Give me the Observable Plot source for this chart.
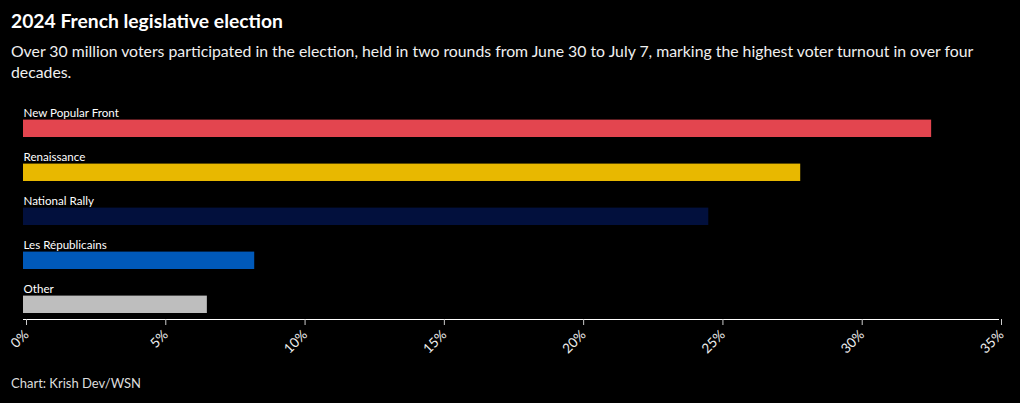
<!DOCTYPE html>
<html>
<head>
<meta charset="utf-8">
<script src="https://cdn.jsdelivr.net/npm/d3@7"></script>
<script src="https://cdn.jsdelivr.net/npm/@observablehq/plot@0.6"></script>
<style>
  html, body { margin: 0; padding: 0; background: #000; width: 1020px; height: 403px; overflow: hidden; }
  body { font-family: Lato, "Noto Sans", sans-serif; color: #fff; position: relative; }
  #title { position: absolute; left: 11px; top: 9px; font-size: 19.3px; font-weight: 700; line-height: 24px; white-space: nowrap; }
  #subtitle { position: absolute; left: 11px; top: 40px; width: 985px; font-size: 15.8px; line-height: 21px; color: #f0f0f0; }
  #chart { position: absolute; left: 0; top: 90px; }
  #caption { position: absolute; left: 11px; top: 375px; font-size: 13px; color: #ddd; }
</style>
</head>
<body>
<div id="title">2024 French legislative election</div>
<div id="subtitle">Over 30 million voters participated in the election, held in two rounds from June 30 to July 7, marking the highest voter turnout in over four decades.</div>
<div id="chart"></div>
<div id="caption">Chart: Krish Dev/WSN</div>
<script>
const parties = ["New Popular Front", "Renaissance", "National Rally", "Les Républicains", "Other"];
const shares = [32.6, 27.9, 24.6, 8.3, 6.6];
const partyColors = ["#e3454f", "#e8b800", "#02103d", "#0059b9", "#bebebe"];
const xTicks = [0, 5, 10, 15, 20, 25, 30, 35];

const data = parties.map((p, i) => ({party: p, share: shares[i]}));

const chart = Plot.plot({
  width: 1020,
  height: 275,
  marginLeft: 23,
  marginRight: 22,
  marginTop: 2.5,
  marginBottom: 46,
  style: {background: "transparent", color: "#fff", fontFamily: "Lato, 'Noto Sans', sans-serif"},
  x: {domain: [0, 35], ticks: xTicks},
  y: {domain: parties, padding: 0, insetBottom: 6.3, axis: null},
  color: {domain: parties, range: partyColors},
  marks: [
    Plot.barX(data, {x: "share", y: "party", fill: "party", insetTop: 26.6, insetBottom: 0}),
    Plot.text(data, {x: 0, y: "party", text: "party", textAnchor: "start", lineAnchor: "bottom", dy: 1.5, fill: "#fff", fontSize: 11.6}),
    Plot.frame({anchor: "bottom", stroke: "#fff", strokeOpacity: 1}),
    Plot.axisX({ticks: xTicks, tickFormat: d => d + "%", tickRotate: -45, tickSize: 6, tickPadding: 7, dx: 3, fontSize: 13.5, stroke: "#ccc", fill: "#eee", label: null})
  ]
});
document.getElementById("chart").appendChild(chart);
</script>
</body>
</html>
